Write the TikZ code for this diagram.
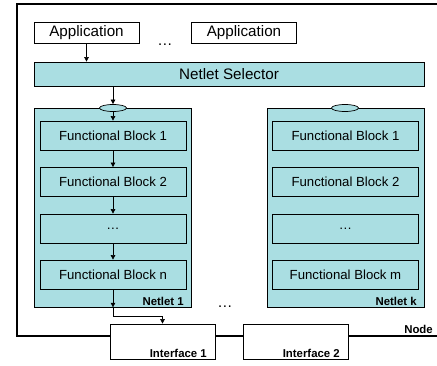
\documentclass[tikz,border=0pt]{standalone}
\usepackage{fontspec}
\setmainfont{Liberation Sans}
\usetikzlibrary{arrows.meta,calc,shapes.geometric}
\definecolor{netcyan}{RGB}{170,222,226}
\tikzset{
  box/.style={draw=black, line width=0.7pt, rectangle, inner sep=0pt, align=center},
  appbox/.style={box, fill=white, minimum width=105pt, minimum height=21pt, font=\fontsize{15.2}{17}\selectfont},
  selbox/.style={box, fill=netcyan, minimum width=390pt, minimum height=24pt, font=\fontsize{15.2}{17}\selectfont},
  netbox/.style={box, fill=netcyan, minimum width=157pt, minimum height=199pt},
  fblock/.style={box, fill=netcyan, minimum width=146pt, minimum height=29pt, font=\fontsize{13.2}{15}\selectfont},
  ifbox/.style={box, fill=white, minimum width=105pt, minimum height=35pt},
  port/.style={draw=black, line width=0.7pt, fill=netcyan, ellipse, minimum width=27pt, minimum height=7pt, inner sep=0pt},
  lbl/.style={font=\fontsize{11.4}{13}\selectfont\bfseries, inner sep=0pt},
  dots/.style={inner sep=0pt},
  arr/.style={line width=0.6pt, -{Triangle[width=4.5pt,length=4.5pt]}},
  frame/.style={line width=1.2pt}
}
\begin{document}
\begin{tikzpicture}[x=1pt,y=-1pt]
\useasboundingbox (0,0) rectangle (437,366);
% applications
\node[appbox] (app1) at (86.5,32.5) {Application};
\node[appbox] (app2) at (244,32.5) {Application};
\node[dots, font=\fontsize{15.2}{17}\selectfont, anchor=base] (adots) at (165,46) {…};
\node[selbox] (sel) at (229,74) {Netlet Selector};
% netlets
\node[netbox] (n1) at (113,207.5) {};
\node[netbox] (nk) at (346,207.5) {};
\node[port] (p1) at (113,108) {};
\node[port] (pk) at (345,108) {};
% blocks netlet 1
\node[fblock] (a1) at (113,135.5) {Functional Block 1};
\node[fblock] (a2) at (113,182) {Functional Block 2};
\node[fblock] (a3) at (113,228.5) {…};
\node[fblock] (an) at (113,274.5) {Functional Block n};
% blocks netlet k
\node[fblock] (b1) at (345.5,135.5) {Functional Block 1};
\node[fblock] (b2) at (345.5,182) {Functional Block 2};
\node[fblock] (b3) at (345.5,228.5) {…};
\node[fblock] (bm) at (345.5,274.5) {Functional Block m};
% labels
\node[lbl, anchor=east] (l1) at (184,301) {Netlet 1};
\node[lbl, anchor=east] (lk) at (417,301) {Netlet k};
\node[dots, font=\fontsize{15.2}{17}\selectfont, anchor=base] (ndots) at (225,308) {…};
% interfaces
\node[ifbox] (if1) at (162.5,341.5) {};
\node[ifbox] (if2) at (295.5,341.5) {};
\node[lbl, anchor=east] (li1) at (207,353) {Interface 1};
\node[lbl, anchor=east] (li2) at (340,353) {Interface 2};
\node[lbl, anchor=east] (lnode) at (433,329) {Node};
% node frame
\coordinate (tr) at (437,4);
\coordinate (tl) at (17,4);
\coordinate (bl) at (17,336);
\coordinate (br) at (437,336);
\draw[frame] (tr) -- (tl) -- (bl) -- (bl -| if1.west);
\draw[frame] (if1.east |- bl) -- (if2.west |- bl);
\draw[frame] (if2.east |- br) -- (br);
% arrows
\draw[arr] (app1.south) -- (app1.south |- sel.north);
\draw[arr] (sel.south -| p1) -- (p1.north);
\draw[arr] (p1.south) -- (a1.north);
\draw[arr] (a1.south) -- (a2.north);
\draw[arr] (a2.south) -- (a3.north);
\draw[arr] (a3.south) -- (an.north);
\draw[arr] (an.south) -- (n1.south -| an);
\draw[arr] (n1.south -| an) -- ++(0,9) -| (if1.north);
\end{tikzpicture}
\end{document}
